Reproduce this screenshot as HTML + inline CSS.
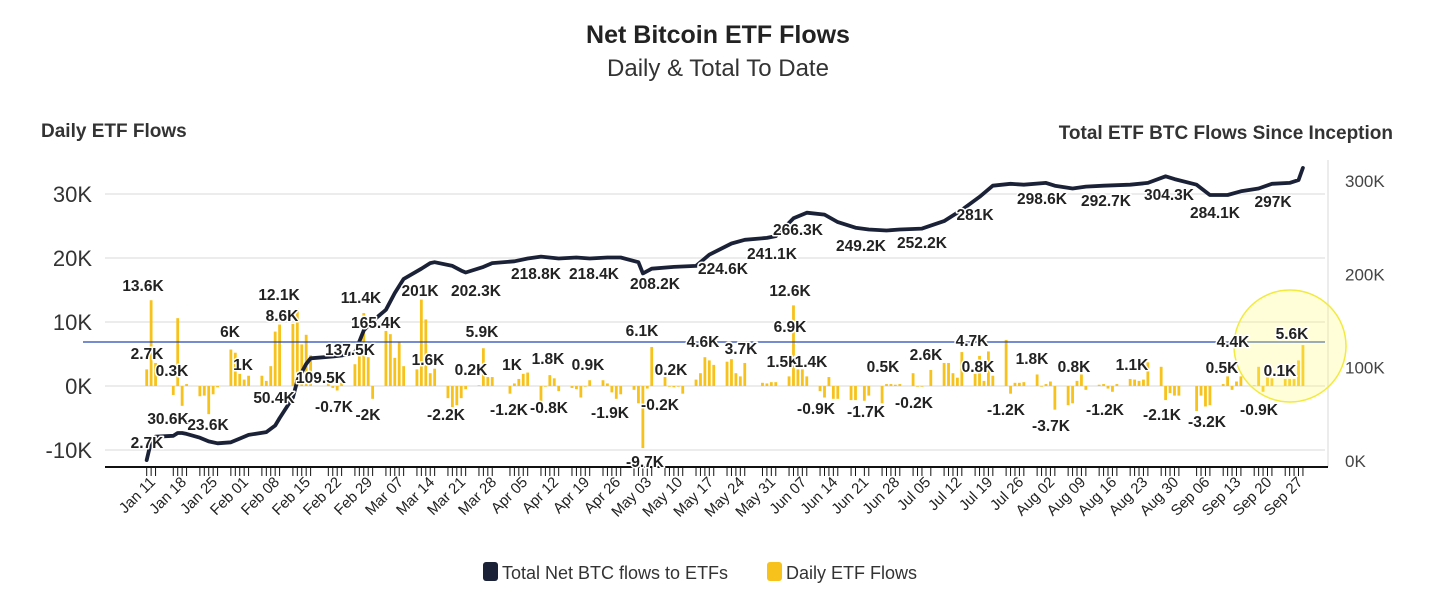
<!DOCTYPE html>
<html><head><meta charset="utf-8">
<style>
html,body{margin:0;padding:0;background:#fff;}
body{width:1456px;height:596px;overflow:hidden;font-family:"Liberation Sans",sans-serif;}
svg text{font-family:"Liberation Sans",sans-serif;}
.lbl{font-weight:bold;font-size:15.5px;fill:#222;paint-order:stroke;stroke:#fff;stroke-width:3px;stroke-linejoin:round;}
</style></head>
<body>
<svg id="chart" width="1456" height="596" viewBox="0 0 1456 596" xmlns="http://www.w3.org/2000/svg">
<text x="718" y="43" text-anchor="middle" font-size="25" font-weight="bold" fill="#222">Net Bitcoin ETF Flows</text>
<text x="718" y="76" text-anchor="middle" font-size="24" fill="#333">Daily &amp; Total To Date</text>
<text x="41" y="137" font-size="19" font-weight="bold" fill="#333">Daily ETF Flows</text>
<text x="1393" y="139" text-anchor="end" font-size="19" font-weight="bold" fill="#333">Total ETF BTC Flows Since Inception</text>
<g id="grid"></g>
<g id="bars"></g>
<g id="xaxis"></g>
<path id="totalLine" fill="none" stroke="#1b2238" stroke-width="3.8" stroke-linejoin="round" stroke-linecap="round"/>
<line x1="83" y1="342" x2="1325" y2="342" stroke="#2448b0" stroke-width="1.2"/>
<circle cx="1290" cy="346" r="56" fill="rgba(255,250,120,0.28)" stroke="#f2ea3c" stroke-width="1.5"/>
<g id="labels"></g>
<g>
<rect x="483" y="562" width="15" height="19" rx="3" fill="#1b2238"/>
<text x="502" y="579" font-size="18" fill="#333">Total Net BTC flows to ETFs</text>
<rect x="767" y="562" width="15" height="19" rx="3" fill="#f7c21b"/>
<text x="786" y="579" font-size="18" fill="#333">Daily ETF Flows</text>
</g>
</svg>
<script>
// Weekly rows Mon..Fri starting week of 2024-01-08 (K BTC), null = no trading
const dailyFlows = [
[null,null,2.6,13.4,3.6],[null,-1.4,10.6,-3.1,0.3],[-1.6,-1.5,-4.4,-1.3,-0.2],[5.7,5.2,1.9,1.0,1.6],
[1.6,0.8,3.1,8.5,9.6],[9.7,12.1,6.5,8.0,4.8],[null,0.4,-0.3,-0.7,0.5],[3.4,5.4,11.4,4.5,-2.0],
[8.6,8.1,4.4,6.8,3.1],[2.6,13.5,10.4,2.0,2.7],[-1.9,-3.3,-3.0,-1.9,-0.5],[0.1,5.9,1.4,1.4,null],
[-1.2,0.4,1.1,1.9,2.1],[-2.6,0.0,1.7,1.2,-0.8],[-0.3,-0.5,-1.8,0.0,0.9],[0.9,0.4,-1.0,-2.0,-1.3],
[-0.6,-2.7,-9.7,-0.4,6.1],[1.4,-0.1,-0.2,-0.1,-1.2],[1.0,2.0,4.5,4.0,3.3],[3.8,4.2,2.0,1.5,3.6],
[null,0.5,0.4,0.6,0.6],[1.5,12.6,2.6,2.6,1.5],[-0.8,-1.8,1.4,-2.0,-2.0],[-2.2,-2.2,null,-2.3,-1.5],
[-2.7,0.3,0.3,0.2,0.3],[2.0,-0.1,-0.1,null,2.5],[3.6,3.6,2.0,1.3,5.3],[1.9,4.7,0.8,5.4,1.6],
[7.2,-1.2,0.5,0.5,0.6],[1.8,-0.1,0.3,0.7,-3.7],[-3.0,-2.7,0.8,1.8,-0.6],[0.2,0.3,-0.4,-0.9,0.3],
[1.1,1.0,0.8,1.0,3.7],[3.0,-2.2,-1.1,-1.5,-1.5],[null,-3.9,-1.5,-3.2,-3.0],[0.3,1.5,-0.6,0.7,1.5],
[0.1,3.0,-0.9,2.2,1.2],[1.1,1.1,1.1,4.0,6.4]
];
const totalDates = ["01-10","01-11","01-12","01-16","01-17","01-18","01-19","01-22","01-24","01-26","01-29","01-31","02-02","02-06","02-08","02-09","02-12","02-13","02-15","02-16","02-21","02-23","02-26","02-28","03-01","03-04","03-06","03-08","03-12","03-14","03-15","03-19","03-21","03-22","03-26","03-28","04-02","04-05","04-08","04-12","04-16","04-19","04-23","04-26","04-30","05-01","05-03","05-08","05-13","05-16","05-21","05-24","05-29","05-31","06-04","06-07","06-11","06-14","06-18","06-21","06-25","06-28","07-03","07-08","07-12","07-16","07-19","07-23","07-26","07-31","08-02","08-06","08-09","08-13","08-19","08-23","08-27","08-29","09-03","09-06","09-10","09-13","09-17","09-20","09-24","09-26","09-27"];
const totalValues = [1,21,26,27,30,30,29,25,21,19,20,24,28,31,38,46,68,86,104,110,112,113,116,140,150,162,180,195,206,212,213,209,204,202,208,212,214,217,219,217,218,217,218,218,213,201,206,208,209,221,233,237,239,241,260,266,264,256,250,248,247,248,249,257,269,283,295,297,296,298,295,292,294,295,296,298,305,302,296,285,285,289,292,297,298,301,314];
const leftTicks = [30,20,10,0,-10];
const leftTickLabels = ["30K","20K","10K","0K","-10K"];
const rightTicks = [300,200,100,0];
const rightTickLabels = ["300K","200K","100K","0K"];
const xTickLabels = ["Jan 11","Jan 18","Jan 25","Feb 01","Feb 08","Feb 15","Feb 22","Feb 29","Mar 07","Mar 14","Mar 21","Mar 28","Apr 05","Apr 12","Apr 19","Apr 26","May 03","May 10","May 17","May 24","May 31","Jun 07","Jun 14","Jun 21","Jun 28","Jul 05","Jul 12","Jul 19","Jul 26","Aug 02","Aug 09","Aug 16","Aug 23","Aug 30","Sep 06","Sep 13","Sep 20","Sep 27"];
const annotations = [
["13.6K",143,291],["2.7K",147,359],["0.3K",172,376],["30.6K",168,424],["2.7K",147,448],["23.6K",208,430],
["6K",230,337],["1K",243,370],["50.4K",274,403],["8.6K",282,321],["12.1K",279,300],["109.5K",321,383],
["-0.7K",334,412],["137.5K",350,355],["11.4K",361,303],["165.4K",376,328],["-2K",368,420],["201K",420,296],
["1.6K",428,365],["202.3K",476,296],["-2.2K",446,420],["5.9K",482,337],["0.2K",471,375],["1K",512,370],
["-1.2K",509,415],["1.8K",548,364],["-0.8K",549,413],["218.8K",536,279],["218.4K",594,279],["0.9K",588,370],
["-1.9K",610,418],["208.2K",655,289],["6.1K",642,336],["0.2K",671,375],["-0.2K",660,410],["-9.7K",645,467],
["224.6K",723,274],["4.6K",703,347],["3.7K",741,354],["241.1K",772,259],["12.6K",790,296],["6.9K",790,332],
["1.5K",783,367],["1.4K",811,367],["-0.9K",816,414],["266.3K",798,235],["249.2K",861,251],["-1.7K",866,417],
["252.2K",922,248],["0.5K",883,372],["2.6K",926,360],["-0.2K",914,408],["281K",975,220],["4.7K",972,346],
["0.8K",978,372],["-1.2K",1006,415],["298.6K",1042,204],["1.8K",1032,364],["-3.7K",1051,431],["292.7K",1106,206],
["0.8K",1074,372],["-1.2K",1105,415],["304.3K",1169,200],["1.1K",1132,370],["-2.1K",1162,420],["284.1K",1215,218],
["-3.2K",1207,427],["0.5K",1222,373],["4.4K",1233,347],["-0.9K",1259,415],["297K",1273,207],["0.1K",1280,376],["5.6K",1292,339]
];

const NS="http://www.w3.org/2000/svg";
const yL = v => 386 - v*6.4;
const yR = v => 461 - v*0.9333;
const xDay = d => 146.7 + 4.43*d;
const base = Date.UTC(2024,0,10);
const dayOf = s => (Date.UTC(2024, +s.slice(0,2)-1, +s.slice(3,5)) - base)/86400000;
function mk(tag, attrs, parent){const e=document.createElementNS(NS,tag);for(const k in attrs)e.setAttribute(k,attrs[k]);parent.appendChild(e);return e;}

const grid=document.getElementById('grid');
leftTicks.forEach((t,i)=>{
  const g=mk('line',{x1:105,x2:1325,y1:yL(t),y2:yL(t),stroke:'#e6e6e6','stroke-width':1.5},grid);
  
  
  const tx=mk('text',{x:92,y:yL(t)+8,'text-anchor':'end','font-size':22,fill:'#333'},grid);
  tx.textContent=leftTickLabels[i];
  
  
});
rightTicks.forEach((t,i)=>{
  const tx=mk('text',{x:1345,y:yR(t)+6,'font-size':17,fill:'#444'},grid);
  tx.textContent=rightTickLabels[i];
  
  
});
const ra=mk('line',{x1:1328,x2:1328,y1:160,y2:467,stroke:'#e6e6e6','stroke-width':1.5},grid);



const bars=document.getElementById('bars');
const xa=document.getElementById('xaxis');
const ax=mk('line',{x1:105,x2:1328,y1:467,y2:467,stroke:'#111','stroke-width':2},xa);


dailyFlows.forEach((wk,w)=>{
  wk.forEach((v,dw)=>{
    if(v===null) return;
    const d=w*7+dw-2;
    const x=xDay(d);
    const y0=yL(0), y1=yL(v);
    const r=mk('rect',{x:x-1.4,y:Math.min(y0,y1),width:2.8,height:Math.max(0.6,Math.abs(y1-y0)),fill:'#f7c21b'},bars);
    
    
    const tk=mk('line',{x1:x,x2:x,y1:468,y2:476,stroke:'#111','stroke-width':1},xa);
    
    
  });
});
xTickLabels.forEach((s,i)=>{
  const x=xDay(1+7*i)+5, y=483;
  const t=mk('text',{x:x,y:y,'text-anchor':'end','font-size':15,fill:'#222',transform:`rotate(-45 ${x} ${y})`},xa);
  t.textContent=s;
  
  
});

document.getElementById('totalLine').setAttribute('d', totalDates.map((s,i)=>(i?'L':'M')+xDay(dayOf(s)).toFixed(1)+' '+yR(totalValues[i]).toFixed(1)).join(' '));

const lg=document.getElementById('labels');
annotations.forEach(a=>{
  const t=mk('text',{x:a[1],y:a[2],'text-anchor':'middle',class:'lbl'},lg);
  t.textContent=a[0];
  
  
});
</script>
</body></html>
